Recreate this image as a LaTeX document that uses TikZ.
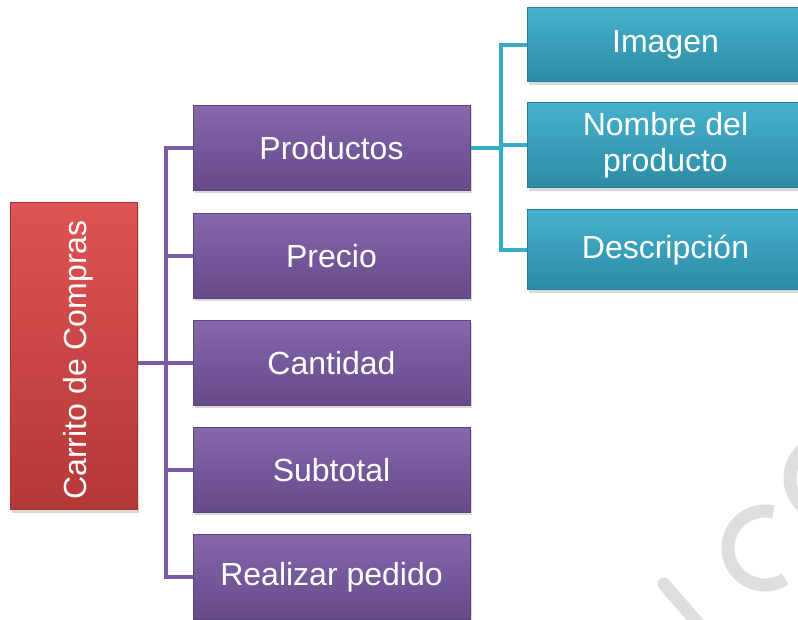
\documentclass[tikz,border=0pt]{standalone}
\usepackage{fontspec}
\setmainfont{Liberation Sans}
\usetikzlibrary{shadows}
\definecolor{rojo}{HTML}{DC4444}
\definecolor{morado}{HTML}{7B5AA6}
\definecolor{aqua}{HTML}{36AAC8}
\definecolor{marca}{HTML}{DEDEDE}
\begin{document}
\begin{tikzpicture}[x=0.5pt, y=0.5pt,
    caja/.style={draw=#1!75!black, line width=0.5pt, top color=#1!92!white, bottom color=#1!82!black,
        text=white, font=\fontsize{16}{17}\selectfont, align=center, inner sep=0pt,
        drop shadow={opacity=0.3, shadow xshift=0.8pt, shadow yshift=-1.4pt}},
    nivel1/.style={caja=morado, minimum width=138.5pt, minimum height=42.5pt},
    nivel2/.style={caja=aqua, minimum width=138.5pt},
    enlace/.style={draw=#1, line width=2pt}]
        \useasboundingbox (0,0) rectangle (798,620);

        % Marca de agua
        \draw[marca, line width=6.5pt] (765,72) ++(77:37) arc (77:303:37);
        \draw[marca, line width=6.5pt] (828,142) ++(125:38) arc (125:235:38);
        \draw[marca, line width=6.5pt, line cap=round] (664,36) -- (702,-8);

        % Raiz
        \node[caja=rojo, minimum width=63.5pt, minimum height=153.5pt] (carrito) at (73.5,263.5) {};
        \node[rotate=90, text=white, font=\fontsize{16}{17}\selectfont] (carritotxt) at (78,260) {Carrito de Compras};

        % Primer nivel
        \node[nivel1] (productos) at (331.5,472) {Productos};
        \node[nivel1] (precio)    at (331.5,364) {Precio};
        \node[nivel1] (cantidad)  at (331.5,257) {Cantidad};
        \node[nivel1] (subtotal)  at (331.5,150) {Subtotal};
        \node[nivel1] (pedido)    at (331.5,43)  {Realizar pedido};

        % Segundo nivel
        \node[nivel2, minimum height=37pt]   (imagen)  at (665.5,575)   {Imagen};
        \node[nivel2, minimum height=42.5pt] (nombre)  at (665.5,474.5) {Nombre del\\[1pt]producto};
        \node[nivel2, minimum height=40pt]   (descrip) at (665.5,370)   {Descripción};

        % Conectores
        \foreach \n in {productos,precio,cantidad,subtotal,pedido}
            \draw[enlace=morado] (cantidad.west -| carrito.east) -- ++(28,0) |- (\n.west);
        \foreach \n in {imagen,nombre,descrip}
            \draw[enlace=aqua] (productos.east) -- ++(30,0) |- (\n.west);
\end{tikzpicture}
\end{document}
